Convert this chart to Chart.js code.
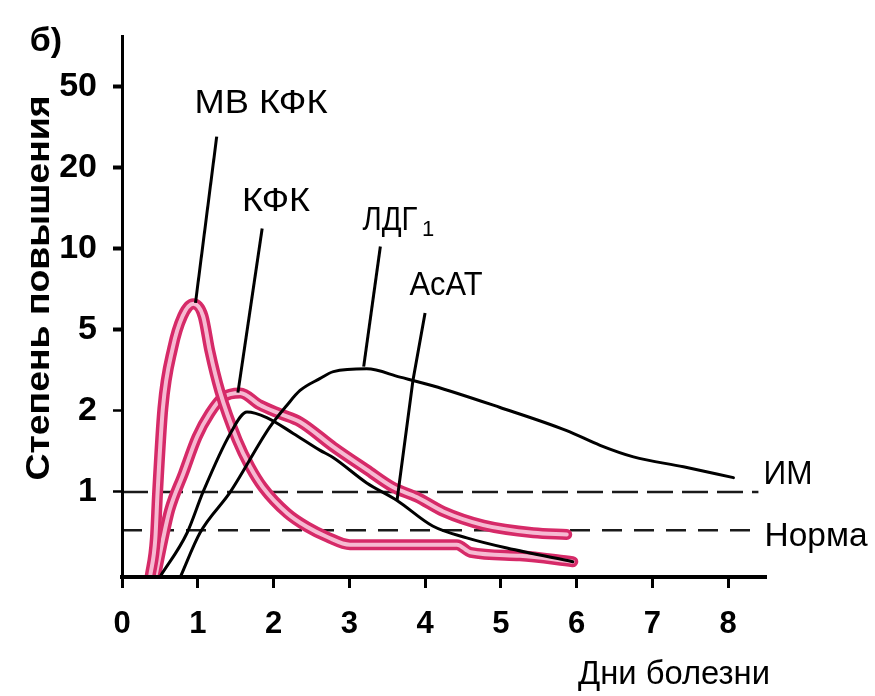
<!DOCTYPE html>
<html>
<head>
<meta charset="utf-8">
<title>Ферменты при ИМ</title>
<script src="https://cdn.jsdelivr.net/npm/chart.js@4.4.1/dist/chart.umd.min.js"></script>
<style>
    html, body { margin: 0; padding: 0; background: #fff; }
    #wrap { width: 875px; height: 696px; }
</style>
</head>
<body>
<div id="wrap"><canvas id="enzymes"></canvas></div>
<script>
// дни болезни / степень повышения (0 = нижняя граница оси)
var xTicks = [0, 1, 2, 3, 4, 5, 6, 7, 8];
var yTicks = [1, 2, 5, 10, 20, 50];

var mbDays = [0.37, 0.44, 0.47, 0.54, 0.67, 0.80, 0.94, 1.07, 1.16, 1.29, 1.52, 1.69, 1.86, 2.18, 2.44, 2.71, 3.01, 4.42, 4.60, 5.25, 5.95];
var mbValues = [0, 0.45, 1.0, 2.07, 4.08, 5.63, 6.25, 5.63, 3.93, 2.51, 1.56, 1.24, 1.04, 0.75, 0.59, 0.47, 0.38, 0.38, 0.29, 0.25, 0.18];

var ckDays = [0.44, 0.54, 0.63, 0.81, 0.99, 1.16, 1.33, 1.56, 1.82, 2.09, 2.35, 2.79, 3.23, 3.58, 3.89, 4.24, 4.77, 5.43, 5.87];
var ckValues = [0, 0.44, 0.79, 1.17, 1.6, 1.96, 2.33, 2.45, 2.14, 1.95, 1.82, 1.47, 1.21, 1.04, 0.94, 0.77, 0.61, 0.52, 0.50];

var astDays = [0.50, 0.86, 1.07, 1.43, 1.65, 1.91, 2.26, 2.61, 2.79, 3.23, 3.63, 4.10, 4.55, 5.08, 5.95];
var astValues = [0, 0.52, 1.0, 1.65, 1.98, 1.89, 1.65, 1.43, 1.34, 1.08, 0.90, 0.60, 0.46, 0.34, 0.18];

var ldhDays = [0.77, 1.03, 1.43, 1.95, 2.18, 2.35, 2.61, 2.79, 3.23, 3.67, 4.10, 4.99, 5.87, 6.31, 6.75, 7.41, 8.07];
var ldhValues = [0, 0.52, 1.0, 1.74, 2.14, 2.52, 2.88, 3.12, 3.22, 2.93, 2.66, 2.08, 1.69, 1.49, 1.35, 1.24, 1.13];

// уровни ИМ и нормы
var refDays = [0, 8.4];
var imLevel = 1;
var normLevel = 0.55;

// выноски к подписям
var mbLeaderDays = [1.25, 0.97];
var mbLeaderValues = [28.5, 6.3];
var ckLeaderDays = [1.85, 1.53];
var ckLeaderValues = [11.9, 2.46];
var ldhLeaderDays = [3.41, 3.19];
var ldhLeaderValues = [10.2, 3.3];
var astLeaderDays = [4.0, 3.84, 3.63];
var astLeaderValues = [5.78, 2.82, 0.9];

// шкала: 1-2-5-10-20-50 через равные шаги, ниже 1 линейно до 0
var yKnots = [0, 1, 2, 5, 10, 20, 50, 100];
var yKnotSteps = [-1.05, 0, 1, 2, 3, 4, 5, 6];

function toStep(v) {
    if (v <= yKnots[0]) return yKnotSteps[0];
    for (var i = 1; i < yKnots.length; i++) {
        if (v <= yKnots[i] || i === yKnots.length - 1) {
            var a = yKnots[i - 1], b = yKnots[i];
            var t = a === 0 ? v / b : Math.log(v / a) / Math.log(b / a);
            return yKnotSteps[i - 1] + t * (yKnotSteps[i] - yKnotSteps[i - 1]);
        }
    }
}

class StepScale extends Chart.LinearScale {
    determineDataLimits() {
        this.min = toStep(this.options.min);
        this.max = toStep(this.options.max);
    }
    buildTicks() {
        return yTicks.map(function (v) { return { value: v }; });
    }
    getPixelForValue(value) {
        return super.getPixelForValue(toStep(value));
    }
}
StepScale.id = "steps";
StepScale.defaults = Chart.LinearScale.defaults;
Chart.register(StepScale);

function pairs(days, values) {
    return days.map(function (d, i) { return { x: d, y: values[i] }; });
}

var FONT = '"Liberation Sans", Arial, sans-serif';
var PINK = "rgb(214, 42, 104)";
var PINK_LIGHT = "rgb(246, 186, 210)";

function curve(data, color, width) {
    return {
        data: data,
        borderColor: color,
        borderWidth: width,
        pointRadius: 0,
        fill: false,
        cubicInterpolationMode: "monotone",
        borderCapStyle: "round",
        borderJoinStyle: "round",
    };
}

function leader(days, values) {
    return {
        data: pairs(days, values),
        borderColor: "black",
        borderWidth: 3,
        pointRadius: 0,
        fill: false,
        tension: 0,
    };
}

function refLine(level, dash) {
    return {
        data: pairs(refDays, [level, level]),
        borderColor: "#1a1a1a",
        borderWidth: 2.5,
        borderDash: dash,
        pointRadius: 0,
        fill: false,
        tension: 0,
    };
}

function putText(ctx, str, x, y, size, bold, width) {
    ctx.save();
    ctx.font = (bold ? "bold " : "") + size + "px " + FONT;
    ctx.textAlign = "center";
    ctx.textBaseline = "middle";
    ctx.fillStyle = "black";
    ctx.translate(x, y);
    if (width) {
        var w = ctx.measureText(str).width;
        ctx.scale(width / w, 1);
    }
    ctx.fillText(str, 0, 0);
    ctx.restore();
}

var labelsPlugin = {
    id: "labels",
    afterDraw: function (chart) {
        var ctx = chart.ctx;
        putText(ctx, "б)", 46, 42, 34, true);
        putText(ctx, "МВ КФК", 261, 104, 34, false, 133);
        putText(ctx, "КФК", 276, 202, 34, false, 68);
        putText(ctx, "ЛДГ", 390, 221, 34, false, 55);
        putText(ctx, "1", 428, 230, 22, false);
        putText(ctx, "АсАТ", 446, 286, 34, false, 73);
        putText(ctx, "ИМ", 788, 475, 34, false, 49);
        putText(ctx, "Норма", 816, 537, 34, false, 103);
        putText(ctx, "Дни болезни", 674, 675, 34, false, 192);

        ctx.save();
        ctx.translate(40, 288);
        ctx.rotate(-Math.PI / 2);
        putText(ctx, "Степень повышения", 0, 0, 33, true, 385);
        ctx.restore();
    },
};

var ctx = document.getElementById("enzymes").getContext("2d");
var enzymeChart = new Chart(ctx, {
    type: "line",
    data: {
        datasets: [
            leader(mbLeaderDays, mbLeaderValues),
            leader(ckLeaderDays, ckLeaderValues),
            leader(ldhLeaderDays, ldhLeaderValues),
            leader(astLeaderDays, astLeaderValues),
            curve(pairs(ldhDays, ldhValues), "black", 3),
            curve(pairs(astDays, astValues), "black", 3),
            curve(pairs(mbDays, mbValues), PINK_LIGHT, 4),
            curve(pairs(mbDays, mbValues), PINK, 11),
            curve(pairs(ckDays, ckValues), PINK_LIGHT, 4),
            curve(pairs(ckDays, ckValues), PINK, 11),
            refLine(imLevel, [26, 9]),
            refLine(normLevel, [20, 12]),
        ],
    },
    options: {
        responsive: true,
        maintainAspectRatio: false,
        animation: false,
        layout: { padding: { top: 33, right: 109, left: 0, bottom: 0 } },
        plugins: {
            legend: { display: false },
            tooltip: { enabled: false },
        },
        scales: {
            x: {
                type: "linear",
                min: 0,
                max: 8.5,
                afterBuildTicks: function (scale) {
                    scale.ticks = xTicks.map(function (v) { return { value: v }; });
                },
                afterFit: function (scale) { scale.height = 119; },
                grid: {
                    drawOnChartArea: false,
                    drawTicks: true,
                    tickLength: 11,
                    tickWidth: 3,
                    tickColor: "black",
                },
                border: { display: true, color: "black", width: 4, z: 1 },
                ticks: {
                    autoSkip: false,
                    maxRotation: 0,
                    padding: 18,
                    color: "black",
                    font: { family: FONT, size: 31, weight: "bold" },
                    callback: function (v) { return String(v); },
                },
            },
            y: {
                type: "steps",
                min: 0,
                max: 77,
                afterFit: function (scale) { scale.width = 122; },
                grid: {
                    drawOnChartArea: false,
                    drawTicks: true,
                    tickLength: 9,
                    tickWidth: function (c) { return c.tick && c.tick.value >= 5 ? 4 : 2.5; },
                    tickColor: "black",
                },
                border: { display: true, color: "black", width: 3, z: 1 },
                ticks: {
                    autoSkip: false,
                    padding: 16,
                    color: "black",
                    font: { family: FONT, size: 34, weight: "bold" },
                    callback: function (v) { return String(v); },
                },
            },
        },
    },
    plugins: [labelsPlugin],
});
</script>
</body>
</html>
